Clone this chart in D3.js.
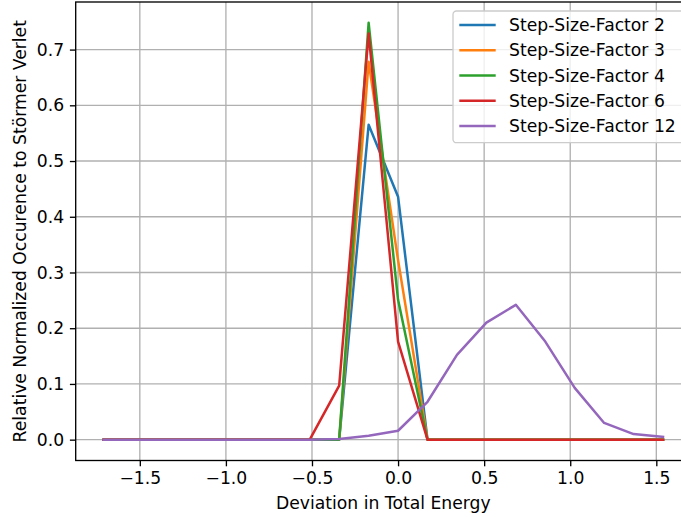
<!DOCTYPE html>
<html>
<head>
<meta charset="utf-8">
<script src="https://cdn.jsdelivr.net/npm/d3@7"></script>
<style>
  html, body { margin: 0; padding: 0; background: #fff; }
  svg { display: block; font-family: "DejaVu Sans", sans-serif; }
</style>
</head>
<body>
<svg id="chart" width="681" height="517"></svg>
<script>
// Bin centres of the energy-deviation histogram
const deviation = [-1.710, -1.539, -1.368, -1.197, -1.026, -0.855, -0.684, -0.513, -0.342, -0.171,
                    0.000,  0.171,  0.342,  0.513,  0.684,  0.855,  1.026,  1.197,  1.368,  1.539];

// Relative normalized occurrence per step-size factor
const factor2  = [0, 0, 0, 0, 0, 0, 0, 0, 0, 0.565, 0.436, 0, 0, 0, 0, 0, 0, 0, 0, 0];
const factor3  = [0, 0, 0, 0, 0, 0, 0, 0, 0, 0.678, 0.322, 0, 0, 0, 0, 0, 0, 0, 0, 0];
const factor4  = [0, 0, 0, 0, 0, 0, 0, 0, 0, 0.748, 0.251, 0, 0, 0, 0, 0, 0, 0, 0, 0];
const factor6  = [0, 0, 0, 0, 0, 0, 0, 0, 0.097, 0.729, 0.176, 0, 0, 0, 0, 0, 0, 0, 0, 0];
const factor12 = [0, 0, 0, 0, 0, 0, 0, 0, 0.001, 0.007, 0.016, 0.068, 0.152, 0.210, 0.242,
                  0.176, 0.093, 0.030, 0.010, 0.005];

const seriesNames = ["Step-Size-Factor 2", "Step-Size-Factor 3", "Step-Size-Factor 4",
                     "Step-Size-Factor 6", "Step-Size-Factor 12"];
const seriesValues = [factor2, factor3, factor4, factor6, factor12];
const seriesColors = ["#1f77b4", "#ff7f0e", "#2ca02c", "#d62728", "#9467bd"];

const xTicks = [-1.5, -1.0, -0.5, 0.0, 0.5, 1.0, 1.5];
const yTicks = [0.0, 0.1, 0.2, 0.3, 0.4, 0.5, 0.6, 0.7];

const xLabel = "Deviation in Total Energy";
const yLabel = "Relative Normalized Occurence to Störmer Verlet";

// ---- layout ----
const plot = { left: 75.7, right: 691, top: 2, bottom: 460.5 };
const fontSize = 17.2;
const svg = d3.select("#chart");

// 5% padding around the data range on both axes
const xMin = d3.min(deviation), xMax = d3.max(deviation);
const xPad = (xMax - xMin) * 0.05;
const allY = seriesValues.flat();
const yMin = d3.min(allY), yMax = d3.max(allY);
const yPad = (yMax - yMin) * 0.05;

const x = d3.scaleLinear().domain([xMin - xPad, xMax + xPad]).range([plot.left, plot.right]);
const y = d3.scaleLinear().domain([yMin - yPad, yMax + yPad]).range([plot.bottom, plot.top]);

const fmt = d => d3.format(".1f")(d).replace("-", "\u2212");

// grid
const grid = svg.append("g").attr("stroke", "#b0b0b0").attr("stroke-width", 1.33);
grid.selectAll("line.vx").data(xTicks).join("line")
  .attr("x1", d => x(d)).attr("x2", d => x(d))
  .attr("y1", plot.top).attr("y2", plot.bottom);
grid.selectAll("line.hy").data(yTicks).join("line")
  .attr("x1", plot.left).attr("x2", plot.right)
  .attr("y1", d => y(d)).attr("y2", d => y(d));

// series lines
const line = d3.line().x((d, i) => x(deviation[i])).y(d => y(d));
svg.append("g").selectAll("path").data(seriesValues).join("path")
  .attr("d", line)
  .attr("fill", "none")
  .attr("stroke", (d, i) => seriesColors[i])
  .attr("stroke-width", 2.5)
  .attr("stroke-linejoin", "round")
  .attr("stroke-linecap", "square");

// axes
const xAxis = d3.axisBottom(x).tickValues(xTicks).tickFormat(fmt).tickSize(5.8).tickPadding(5.8);
const yAxis = d3.axisLeft(y).tickValues(yTicks).tickFormat(fmt).tickSize(5.8).tickPadding(5.8);

const gx = svg.append("g").attr("transform", `translate(0,${plot.bottom})`).call(xAxis);
const gy = svg.append("g").attr("transform", `translate(${plot.left},0)`).call(yAxis);
[gx, gy].forEach(g => {
  g.select(".domain").remove();
  g.selectAll(".tick line").attr("stroke", "#000").attr("stroke-width", 1.33);
  g.selectAll(".tick text").attr("fill", "#000")
    .style("font-size", fontSize + "px").style("font-family", "DejaVu Sans");
});

// spines
const spines = svg.append("g").attr("stroke", "#000").attr("stroke-width", 1.33).attr("fill", "none");
spines.append("rect")
  .attr("x", plot.left).attr("y", plot.top)
  .attr("width", plot.right - plot.left).attr("height", plot.bottom - plot.top);

// axis labels
svg.append("text")
  .attr("x", (plot.left + plot.right) / 2).attr("y", 509)
  .attr("text-anchor", "middle").style("font-size", fontSize + "px")
  .text(xLabel);
svg.append("text")
  .attr("transform", `translate(25.5,${(plot.top + plot.bottom) / 2}) rotate(-90)`)
  .attr("text-anchor", "middle").style("font-size", fontSize + "px")
  .text(yLabel);

// legend
const legend = svg.append("g");
legend.append("rect")
  .attr("x", 453).attr("y", 11)
  .attr("width", plot.right - 7 - 453).attr("height", 131.7)
  .attr("rx", 3.5).attr("ry", 3.5)
  .attr("fill", "#fff").attr("fill-opacity", 0.8)
  .attr("stroke", "#cccccc").attr("stroke-width", 1.33);
const rows = legend.selectAll("g.row").data(seriesNames).join("g")
  .attr("transform", (d, i) => `translate(0,${25 + i * 25.25})`);
rows.append("line")
  .attr("x1", 459.3).attr("x2", 495.7)
  .attr("stroke", (d, i) => seriesColors[i]).attr("stroke-width", 2.5);
rows.append("text")
  .attr("x", 509).attr("dy", "0.36em")
  .style("font-size", fontSize + "px")
  .text(d => d);
</script>
</body>
</html>
